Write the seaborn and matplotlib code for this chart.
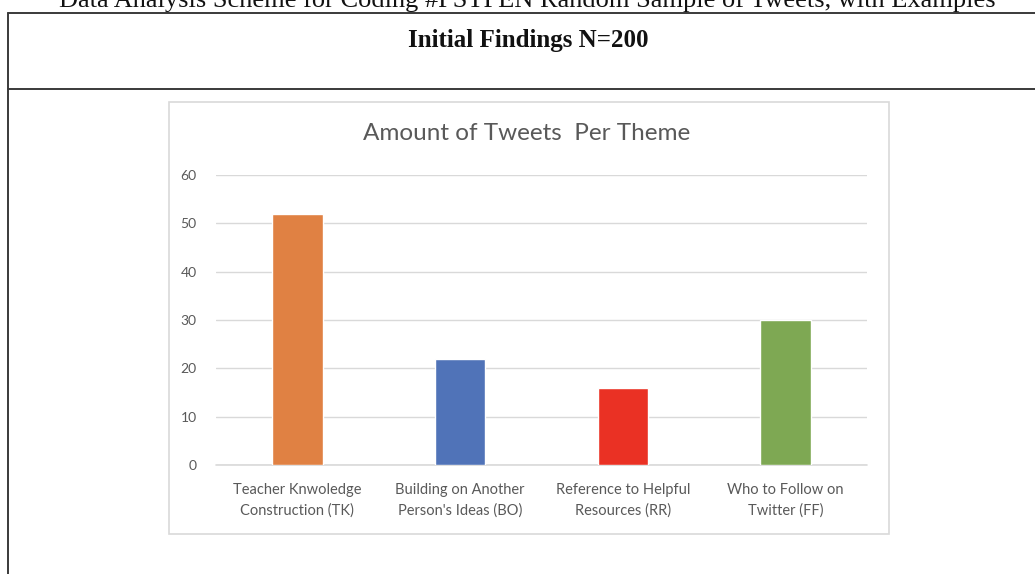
import matplotlib
matplotlib.use("Agg")
import matplotlib.pyplot as plt
import seaborn as sns
from matplotlib.lines import Line2D
from matplotlib.patches import Rectangle

# Data
themes = ["Teacher Knwoledge\nConstruction (TK)",
          "Building on Another\nPerson's Ideas (BO)",
          "Reference to Helpful\nResources (RR)",
          "Who to Follow on\nTwitter (FF)"]
tweet_counts = [52, 22, 16, 30]
bar_colors = ["#E08143", "#5073B8", "#EA3124", "#7EA853"]
y_ticks = [0, 10, 20, 30, 40, 50, 60]

W, H = 1035, 574
sns.set_theme(style="white")
plt.rcParams['font.family'] = ['Lato', 'DejaVu Sans']

fig = plt.figure(figsize=(W / 100, H / 100), dpi=100)
fig.patch.set_facecolor("white")

def fx(px):
    return px / W

def fy(py):
    return 1 - py / H

# table lines of the document page
line_kw = dict(color="#3a3a3a", lw=1.4, transform=fig.transFigure)
fig.add_artist(Line2D([fx(8), 1], [fy(13), fy(13)], **line_kw))
fig.add_artist(Line2D([fx(8), 1], [fy(89), fy(89)], **line_kw))
fig.add_artist(Line2D([fx(8), fx(8)], [fy(13), 0], **line_kw))

# page caption (cut off at the top, as in the scan) and table header
fig.text(fx(527), fy(1), "Data Analysis Scheme for Coding #PSTPEN Random Sample of Tweets, with Examples",
         ha="center", va="center", fontsize=19, family="Liberation Serif", color="#111111")
fig.text(fx(528), fy(41), "Initial Findings N=200", ha="center", va="center",
         fontsize=18, fontweight="bold", family="Liberation Serif", color="#111111")

# chart frame (behind the axes)
fig.add_artist(Rectangle((fx(169), fy(534)), fx(889) - fx(169), fy(102) - fy(534),
                         transform=fig.transFigure, facecolor="white",
                         edgecolor="#d9d9d9", lw=1.2, zorder=-5))

ax = fig.add_axes([fx(216), fy(465), fx(867) - fx(216), fy(175) - fy(465)])
sns.barplot(x=themes, y=tweet_counts, hue=themes, palette=bar_colors,
            legend=False, width=0.31, saturation=1, ax=ax)

ax.set_ylim(0, 60)
ax.set_xlim(-0.5, 3.5)
ax.set_yticks(y_ticks)
ax.yaxis.grid(True, color="#d9d9d9", lw=1)
ax.axhline(0, color="#d9d9d9", lw=1.2, clip_on=False, zorder=0.5)
ax.set_axisbelow(True)
for s in ax.spines.values():
    s.set_visible(False)
ax.tick_params(axis="y", length=0, pad=14, labelsize=10, labelcolor="#595959")
ax.tick_params(axis="x", length=0, pad=13, labelsize=10.5, labelcolor="#595959")
for lbl in ax.get_xticklabels():
    lbl.set_linespacing(1.55)
ax.set_xlabel("")
ax.set_ylabel("")
ax.patch.set_alpha(0)

fig.text(fx(527), fy(133), "Amount of Tweets  Per Theme", ha="center", va="center",
         fontsize=17.5, color="#595959")

fig.savefig("out.png", dpi=100)
